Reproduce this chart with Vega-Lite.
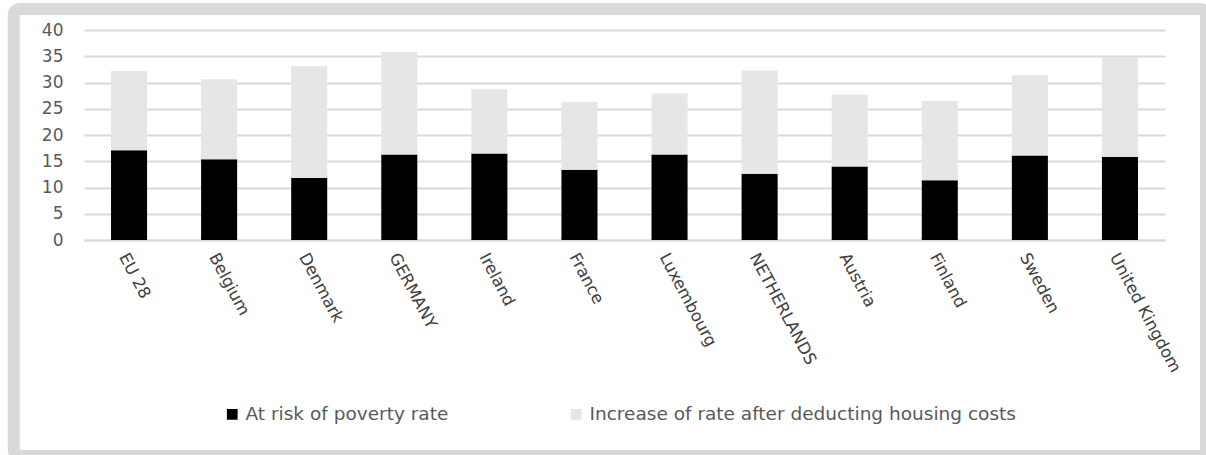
{
  "$schema": "https://vega.github.io/schema/vega-lite/v6.json",
  "autosize": {"type": "none"},
  "padding": {"left": 13.75, "top": 9, "right": 0, "bottom": 0},
  "width": 1192.25,
  "height": 447,
  "background": "#ffffff",
  "config": {
    "view": {"stroke": "#d9d9d9", "strokeWidth": 12, "cornerRadius": 6, "fill": "#ffffff"},
    "font": "DejaVu Sans"
  },
  "data": {
    "values": [
      {"country": "EU 28", "series": "At risk of poverty rate", "value": 17.1},
      {"country": "EU 28", "series": "Increase of rate after deducting housing costs", "value": 15.1},
      {"country": "Belgium", "series": "At risk of poverty rate", "value": 15.4},
      {"country": "Belgium", "series": "Increase of rate after deducting housing costs", "value": 15.2},
      {"country": "Denmark", "series": "At risk of poverty rate", "value": 11.8},
      {"country": "Denmark", "series": "Increase of rate after deducting housing costs", "value": 21.3},
      {"country": "GERMANY", "series": "At risk of poverty rate", "value": 16.3},
      {"country": "GERMANY", "series": "Increase of rate after deducting housing costs", "value": 19.5},
      {"country": "Ireland", "series": "At risk of poverty rate", "value": 16.5},
      {"country": "Ireland", "series": "Increase of rate after deducting housing costs", "value": 12.2},
      {"country": "France", "series": "At risk of poverty rate", "value": 13.4},
      {"country": "France", "series": "Increase of rate after deducting housing costs", "value": 12.9},
      {"country": "Luxembourg", "series": "At risk of poverty rate", "value": 16.3},
      {"country": "Luxembourg", "series": "Increase of rate after deducting housing costs", "value": 11.6},
      {"country": "NETHERLANDS", "series": "At risk of poverty rate", "value": 12.6},
      {"country": "NETHERLANDS", "series": "Increase of rate after deducting housing costs", "value": 19.7},
      {"country": "Austria", "series": "At risk of poverty rate", "value": 14.0},
      {"country": "Austria", "series": "Increase of rate after deducting housing costs", "value": 13.7},
      {"country": "Finland", "series": "At risk of poverty rate", "value": 11.4},
      {"country": "Finland", "series": "Increase of rate after deducting housing costs", "value": 15.1},
      {"country": "Sweden", "series": "At risk of poverty rate", "value": 16.1},
      {"country": "Sweden", "series": "Increase of rate after deducting housing costs", "value": 15.3},
      {"country": "United Kingdom", "series": "At risk of poverty rate", "value": 15.8},
      {"country": "United Kingdom", "series": "Increase of rate after deducting housing costs", "value": 19.0}
    ]
  },
  "mark": {"type": "bar"},
  "encoding": {
    "x": {
      "field": "country",
      "type": "nominal",
      "sort": null,
      "scale": {"range": [70.25, 1151.25], "paddingInner": 0.6, "paddingOuter": 0.3},
      "axis": {
        "title": null,
        "offset": -216,
        "domain": true,
        "domainColor": "#d9d9d9",
        "domainWidth": 2,
        "ticks": false,
        "labelAngle": 62,
        "labelAlign": "left",
        "labelBaseline": "middle",
        "labelPadding": 14,
        "labelOffset": -6,
        "labelFontSize": 16.5,
        "labelColor": "#404040",
        "labelLimit": 300
      }
    },
    "y": {
      "field": "value",
      "type": "quantitative",
      "stack": "zero",
      "scale": {"domain": [0, 40], "nice": false, "range": [231, 21]},
      "axis": {
        "title": null,
        "offset": -70.25,
        "domain": false,
        "ticks": false,
        "values": [0, 5, 10, 15, 20, 25, 30, 35, 40],
        "grid": true,
        "gridColor": "#d9d9d9",
        "gridWidth": 2,
        "labelPadding": 21,
        "labelFontSize": 17,
        "labelColor": "#595959"
      }
    },
    "color": {
      "field": "series",
      "type": "nominal",
      "scale": {
        "domain": ["At risk of poverty rate", "Increase of rate after deducting housing costs"],
        "range": ["#000000", "#e6e6e6"]
      },
      "legend": {
        "title": null,
        "orient": "none",
        "direction": "horizontal",
        "legendX": 209.25,
        "legendY": 396,
        "padding": 0,
        "symbolType": "square",
        "symbolSize": 115,
        "symbolStrokeWidth": 0,
        "labelFontSize": 18.5,
        "labelColor": "#595959",
        "labelOffset": 4,
        "columnPadding": 118,
        "labelLimit": 600
      }
    },
    "order": {"field": "series", "type": "nominal", "sort": "ascending"}
  }
}
